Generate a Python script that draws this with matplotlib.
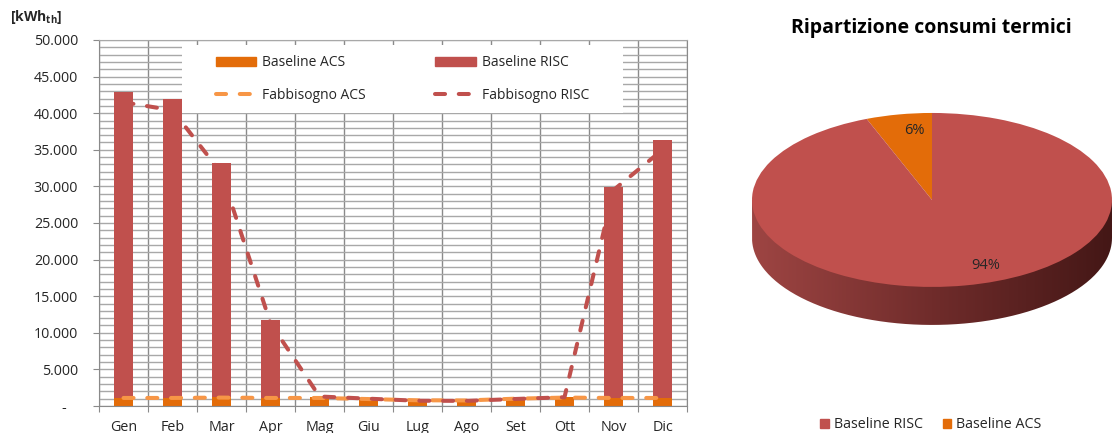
import numpy as np
import matplotlib
matplotlib.use('Agg')
import matplotlib.pyplot as plt
from matplotlib.patches import Rectangle, Patch, PathPatch
from matplotlib.path import Path
from matplotlib.ticker import FuncFormatter, MultipleLocator
from matplotlib.colors import LinearSegmentedColormap

plt.rcParams['font.family'] = ['Open Sans', 'DejaVu Sans']
plt.rcParams['mathtext.fontset'] = 'custom'
plt.rcParams['mathtext.rm'] = 'Open Sans'
plt.rcParams['mathtext.bf'] = 'Open Sans:bold'

# ---------------- data ----------------
months = ['Gen', 'Feb', 'Mar', 'Apr', 'Mag', 'Giu', 'Lug', 'Ago', 'Set', 'Ott', 'Nov', 'Dic']
baseline_acs = [1050, 1050, 1200, 1050, 1200, 800, 600, 700, 900, 1270, 1050, 1050]
baseline_risc = [41800, 40950, 32050, 10700, 0, 0, 0, 0, 0, 0, 28900, 35350]
fabbisogno_acs = [1100, 1100, 1150, 1100, 1100, 950, 780, 760, 1000, 1150, 1100, 1100]
fabbisogno_risc = [41500, 40400, 31800, 11300, 1300, 1000, 720, 700, 960, 1200, 29500, 35000]
series_labels = ['Baseline ACS', 'Baseline RISC', 'Fabbisogno ACS', 'Fabbisogno RISC']
pie_labels = ['Baseline RISC', 'Baseline ACS']
pie_title = 'Ripartizione consumi termici'
y_unit = r'[kWh$_{\mathbf{th}}$]'
y_max = 50000
y_major = 5000
y_minor = 1000

# ---------------- style ----------------
C_RISC = '#C0504D'
C_ACS = '#E36C09'
C_FACS = '#F79646'
TXT = '#262626'
HGRID = '#A8A8A8'
VGRID = '#8A8A8A'

W, H = 1112, 433
fig = plt.figure(figsize=(W / 100, H / 100), dpi=100, facecolor='white')


def px(x0, y0, x1, y1):
    return [x0 / W, 1 - y1 / H, (x1 - x0) / W, (y1 - y0) / H]


# ---------------- left chart ----------------
ax = fig.add_axes(px(99, 40, 687, 406))
x = np.arange(len(months))
ax.bar(x, baseline_acs, width=0.4, color=C_ACS, zorder=2, label=series_labels[0])
ax.bar(x, baseline_risc, width=0.4, bottom=baseline_acs, color=C_RISC, zorder=2,
       label=series_labels[1])
lw = 2.9
l_acs, = ax.plot(x, fabbisogno_acs, color=C_FACS, lw=lw, dashes=(2.5, 3.4),
                 dash_capstyle='round', zorder=4, label=series_labels[2])
l_risc, = ax.plot(x, fabbisogno_risc, color=C_RISC, lw=lw, dashes=(2.5, 3.4),
                  dash_capstyle='round', zorder=5, label=series_labels[3])

ax.set_xlim(-0.5, len(months) - 0.5)
ax.set_ylim(0, y_max)
ax.set_xticks(np.arange(-0.5, len(months), 1))
ax.set_xticklabels([])
ax.set_xticks(x, minor=True)
ax.set_xticklabels(months, minor=True)
ax.tick_params(axis='x', which='major', length=4, direction='out', color=VGRID)
ax.tick_params(axis='x', which='minor', length=0, pad=10, labelsize=10.3, labelcolor=TXT)
ax.yaxis.set_major_locator(MultipleLocator(y_major))
ax.yaxis.set_minor_locator(MultipleLocator(y_minor))


def yfmt(v, pos):
    if v == 0:
        return '-   '
    return f'{v:,.0f}'.replace(',', '.')


ax.yaxis.set_major_formatter(FuncFormatter(yfmt))
ax.tick_params(axis='y', which='major', length=4, direction='out', color=VGRID,
               pad=11, labelsize=10.3, labelcolor=TXT)
ax.tick_params(axis='y', which='minor', length=0)
ax.grid(axis='y', which='both', color=HGRID, lw=1.0)
ax.grid(axis='x', which='major', color=VGRID, lw=1.0)
ax.set_axisbelow(True)
for s in ['left', 'bottom']:
    ax.spines[s].set_color(VGRID)
ax.spines['top'].set_color(HGRID)
ax.spines['right'].set_color(VGRID)

# white legend box
ax.add_patch(Rectangle((0.141, 0.80), 0.75, 0.186, transform=ax.transAxes,
                       facecolor='white', edgecolor='none', zorder=2.5))
handles = [Patch(color=C_ACS), l_acs, Patch(color=C_RISC), l_risc]
labels = [series_labels[0], series_labels[2], series_labels[1], series_labels[3]]
leg = ax.legend(handles, labels, loc='center', bbox_to_anchor=(0.516, 0.893),
                bbox_transform=ax.transAxes, ncol=2, frameon=False, fontsize=10,
                handlelength=2.9, handleheight=0.55, handletextpad=0.45,
                columnspacing=5.0, labelspacing=1.25)
leg.set_zorder(6)
for t in leg.get_texts():
    t.set_color(TXT)

fig.text(10 / W, 1 - 17 / H, y_unit, fontsize=10, fontweight='bold', color=TXT,
         ha='left', va='center')

# ---------------- pie chart ----------------
acs_total = sum(baseline_acs)
risc_total = sum(baseline_risc)

ax2 = fig.add_axes(px(752, 100, 1112, 340))
ax2.axis('off')
d = 38 / 87
cmap = LinearSegmentedColormap.from_list('side', ['#9E4543', '#702C2B', '#441716'])
grad = np.linspace(0, 1, 256).reshape(1, -1)
im = ax2.imshow(grad, extent=(-1, 1, -1 - d, 0.05), aspect='auto', cmap=cmap, zorder=0.5)
theta = np.linspace(np.pi, 2 * np.pi, 200)
verts = [(-1, 0)] + [(np.cos(t), np.sin(t) - d) for t in theta] + [(1, 0), (-1, 0)]
clip = PathPatch(Path(verts), transform=ax2.transData, facecolor='none', edgecolor='none')
ax2.add_patch(clip)
im.set_clip_path(clip)

wedges, texts, autotexts = ax2.pie([acs_total, risc_total], colors=[C_ACS, C_RISC],
                                   startangle=90, counterclock=True, autopct='%1.0f%%',
                                   pctdistance=0.78, wedgeprops=dict(linewidth=0),
                                   textprops=dict(fontsize=10.5, color=TXT))
for w in wedges:
    w.set_zorder(2)
for t in autotexts:
    t.set_zorder(3)
autotexts[1].set_position((0.3, -0.75))
autotexts[0].set_position((-0.1, 0.8))
ax2.set_aspect('auto')
ax2.set_xlim(-1, 1)
ax2.set_ylim(-1.61, 1.149)

fig.text(931 / W, 1 - 28 / H, pie_title, fontsize=14, fontweight='bold', color='black',
         ha='center', va='center')
fig.legend([Patch(color=C_RISC), Patch(color=C_ACS)], pie_labels, loc='center',
           bbox_to_anchor=(931 / W, 1 - 425 / H), ncol=2, frameon=False, fontsize=10.3,
           handlelength=0.6, handleheight=0.6, handletextpad=0.35, columnspacing=1.4,
           labelcolor=TXT)

fig.savefig('out.png', dpi=100, facecolor='white')
